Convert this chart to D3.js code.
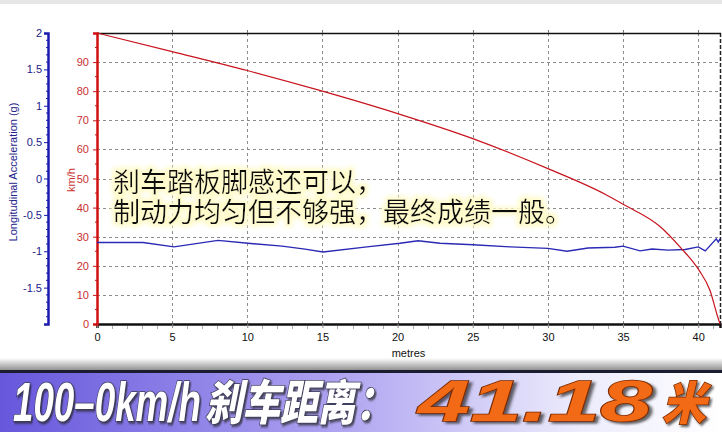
<!DOCTYPE html>
<html><head><meta charset="utf-8">
<script src="https://cdn.jsdelivr.net/npm/d3@7"></script>
<style>body{margin:0;background:#fff;}svg{display:block;}</style>
</head><body>
<svg id="c" width="722" height="432"></svg>
<script>
// ---- data ----
const distanceTicks = [0,5,10,15,20,25,30,35,40];
const speedTicks = [0,10,20,30,40,50,60,70,80,90];
const accelTicks = [-1.5,-1,-0.5,0,0.5,1,1.5,2];
const speedDist = [0,5,10,15,20,25,30,33.8,35.06,37.46,38.8,40.05,40.78,41.3,41.45];
const speedKmh  = [100,93.6,87.1,80,72.3,63.7,53.4,44.6,41,33.5,26.4,18.5,11.6,2.4,0];
const accDist = [0,3.06,5.12,8.05,10.05,12.31,13.84,15.04,17.96,20.16,21.36,22.82,25.02,27.48,30.01,31.27,32.67,34.46,35.0,36.13,36.93,38.0,39.13,40.0,40.47,41.2,41.34,41.45];
const accG    = [-0.88,-0.88,-0.94,-0.85,-0.89,-0.93,-0.97,-1.01,-0.94,-0.89,-0.855,-0.89,-0.91,-0.94,-0.96,-1.00,-0.955,-0.945,-0.93,-0.995,-0.97,-0.985,-0.975,-0.94,-0.995,-0.83,-0.875,-0.83];
const noteLines = ["刹车踏板脚感还可以，","制动力均匀但不够强，最终成绩一般。"];
const bannerParts = ["100–0km/h","刹车距离：","41.18","米"];

const svg = d3.select("#c");
const L = 97, R = 720, T = 33, B = 324;
const x = d3.scaleLinear().domain([0,41.45]).range([L,R]);
const yS = d3.scaleLinear().domain([0,100]).range([B,T]);
const yG = d3.scaleLinear().domain([-2,2]).range([B,T]);

const defs = svg.append("defs");
defs.append("clipPath").attr("id","clip").append("rect").attr("x",L).attr("y",T-1).attr("width",R-L+1).attr("height",B-T+2);
const f = defs.append("filter").attr("id","glow").attr("x","-5%").attr("y","-20%").attr("width","110%").attr("height","140%");
f.append("feMorphology").attr("in","SourceAlpha").attr("operator","dilate").attr("radius",3).attr("result","d");
f.append("feGaussianBlur").attr("in","d").attr("stdDeviation",2).attr("result","b");
f.append("feFlood").attr("flood-color","#fffbcc").attr("result","c");
f.append("feComposite").attr("in","c").attr("in2","b").attr("operator","in").attr("result","g");
const fm = f.append("feMerge");
fm.append("feMergeNode").attr("in","g");
fm.append("feMergeNode").attr("in","SourceGraphic");
const gb = defs.append("linearGradient").attr("id","bannerGrad").attr("x1",0).attr("x2",1).attr("y1",0).attr("y2",0);
gb.append("stop").attr("offset","0%").attr("stop-color","#6757dc");
gb.append("stop").attr("offset","45%").attr("stop-color","#aba0f0");
gb.append("stop").attr("offset","80%").attr("stop-color","#ecebfc");
gb.append("stop").attr("offset","100%").attr("stop-color","#ffffff");
const gg = defs.append("linearGradient").attr("id","grayGrad").attr("x1",0).attr("x2",0).attr("y1",0).attr("y2",1);
gg.append("stop").attr("offset","0%").attr("stop-color","#ffffff");
gg.append("stop").attr("offset","100%").attr("stop-color","#8a8a8a");
const ts = defs.append("filter").attr("id","tshadow").attr("x","-5%").attr("y","-20%").attr("width","110%").attr("height","150%");
ts.append("feDropShadow").attr("dx",2).attr("dy",2).attr("stdDeviation",1).attr("flood-color","#222").attr("flood-opacity",0.7);

svg.append("rect").attr("x",0).attr("y",0).attr("width",722).attr("height",4).attr("fill","#e6e6e6");

// grid
const grid = svg.append("g").attr("stroke","#8c8c8c").attr("stroke-dasharray","3,3").attr("stroke-width",1);
speedTicks.filter(d=>d>0).forEach(d=>{
  grid.append("line").attr("x1",L).attr("x2",R).attr("y1",Math.round(yS(d))+0.5).attr("y2",Math.round(yS(d))+0.5);
});
distanceTicks.filter(d=>d>0).forEach(d=>{
  grid.append("line").attr("y1",T).attr("y2",B).attr("x1",Math.round(x(d))+0.5).attr("x2",Math.round(x(d))+0.5);
});
svg.append("line").attr("x1",R+0.5).attr("x2",R+0.5).attr("y1",T).attr("y2",B).attr("stroke","#222").attr("stroke-dasharray","4,2").attr("stroke-width",1.5);
svg.append("line").attr("x1",L).attr("x2",R+1).attr("y1",T+0.5).attr("y2",T+0.5).attr("stroke","#111").attr("stroke-width",1.5);
distanceTicks.filter(d=>d>0).forEach(d=>{
  svg.append("line").attr("x1",Math.round(x(d))+0.5).attr("x2",Math.round(x(d))+0.5).attr("y1",T-3).attr("y2",T).attr("stroke","#777");
});

// x axis
const xAxis = d3.axisBottom(x).tickValues(distanceTicks).tickSize(4).tickPadding(5).tickFormat(d3.format("d"));
const gx = svg.append("g").attr("transform",`translate(0,${B})`).call(xAxis);
gx.select(".domain").attr("stroke","#111").attr("stroke-width",2.5);
gx.selectAll(".tick line").attr("stroke","#888");
gx.selectAll("text").attr("font-family","Liberation Sans, Arial, sans-serif").attr("font-size",11).attr("fill","#111");
const minorX = d3.range(1,42).filter(d=>d%5!==0);
gx.selectAll(".minor").data(minorX).enter().append("line").attr("class","minor")
  .attr("x1",d=>Math.round(x(d))+0.5).attr("x2",d=>Math.round(x(d))+0.5).attr("y1",2).attr("y2",5).attr("stroke","#aaa");
svg.append("text").attr("x",(L+R)/2).attr("y",357).attr("text-anchor","middle")
  .attr("font-family","Liberation Sans, Arial, sans-serif").attr("font-size",11).attr("fill","#111").text("metres");

// speed axis (red)
const sAxis = d3.axisLeft(yS).tickValues(speedTicks).tickSize(4).tickPadding(4);
const gs = svg.append("g").attr("transform",`translate(${L},0)`).call(sAxis);
gs.select(".domain").attr("stroke","#d01010").attr("stroke-width",2.5);
gs.selectAll(".tick line").attr("stroke","#d01010");
gs.selectAll("text").attr("font-family","Liberation Sans, Arial, sans-serif").attr("font-size",11).attr("fill","#c83030");
gs.selectAll(".minor").data(d3.range(5,100,10)).enter().append("line").attr("class","minor")
  .attr("x1",-2).attr("x2",0).attr("y1",d=>yS(d)).attr("y2",d=>yS(d)).attr("stroke","#d01010");
svg.append("text").attr("transform","translate(75,180) rotate(-90)").attr("text-anchor","middle")
  .attr("font-family","Liberation Sans, Arial, sans-serif").attr("font-size",11).attr("fill","#c83030").text("km/h");

// accel axis (blue)
const aAxis = d3.axisLeft(yG).tickValues(accelTicks).tickSize(4).tickPadding(2).tickFormat(d=>String(d));
const ga = svg.append("g").attr("transform",`translate(48,0)`).call(aAxis);
ga.select(".domain").attr("stroke","#1a1ab0").attr("stroke-width",2.5);
ga.selectAll(".tick line").attr("stroke","#1a1ab0");
ga.selectAll("text").attr("font-family","Liberation Sans, Arial, sans-serif").attr("font-size",11).attr("fill","#22228a");
ga.selectAll(".minor").data(d3.range(-19,20).map(d=>d/10).filter(d=>Math.abs(d*2-Math.round(d*2))>0.01)).enter().append("line").attr("class","minor")
  .attr("x1",-2).attr("x2",0).attr("y1",d=>yG(d)).attr("y2",d=>yG(d)).attr("stroke","#1a1ab0");
svg.append("text").attr("transform","translate(17,172) rotate(-90)").attr("text-anchor","middle")
  .attr("font-family","Liberation Sans, Arial, sans-serif").attr("font-size",11).attr("fill","#22228a").text("Longitudinal Acceleration (g)");

// lines
const plot = svg.append("g").attr("clip-path","url(#clip)");
plot.append("path").datum(accDist.map((d,i)=>[d,accG[i]]))
  .attr("d",d3.line().x(d=>x(d[0])).y(d=>yG(d[1])))
  .attr("fill","none").attr("stroke","#2a2ab4").attr("stroke-width",1.4);
plot.append("path").datum(speedDist.map((d,i)=>[d,speedKmh[i]]))
  .attr("d",d3.line().x(d=>x(d[0])).y(d=>yS(d[1])).curve(d3.curveMonotoneX))
  .attr("fill","none").attr("stroke","#c8141e").attr("stroke-width",1.2);

// annotation (single text block, two lines)
const note = svg.append("text").attr("font-family","Noto Sans CJK SC, sans-serif").attr("font-size",27)
  .attr("fill","#111").attr("filter","url(#glow)");
noteLines.forEach((t,i)=>{
  note.append("tspan").attr("x",113).attr("y",192+i*30).text(t);
});

// banner
svg.append("rect").attr("x",0).attr("y",358).attr("width",722).attr("height",13).attr("fill","url(#grayGrad)");
svg.append("rect").attr("x",0).attr("y",370).attr("width",722).attr("height",3).attr("fill","#1c1c30");
svg.append("rect").attr("x",0).attr("y",373).attr("width",722).attr("height",59).attr("fill","url(#bannerGrad)");
const bx = [[13,188],[205,188],[418,234],[662,44]];
const bsize = [55,48,57,46];
const bcol = ["#ffffff","#ffffff","#f26a12","#f26a12"];
const bfont = ["Liberation Sans, Arial, sans-serif","Noto Sans CJK SC, sans-serif","Liberation Sans, Arial, sans-serif","Noto Sans CJK SC, sans-serif"];
bannerParts.forEach((t,i)=>{
  const g = svg.append("g");
  const tx = g.append("text").attr("x",0).attr("y",0)
    .attr("font-family",bfont[i]).attr("font-size",bsize[i]).attr("font-weight",900).attr("font-style","italic")
    .attr("fill",bcol[i]).attr("stroke",i<2?"#3a3a55":"#7a2a00").attr("stroke-width",1.5).attr("paint-order","stroke")
    .attr("filter","url(#tshadow)").text(t);
  const w = tx.node().getComputedTextLength() || bx[i][1];
  const sx = bx[i][1]/w;
  g.attr("transform",`translate(${bx[i][0]},${i%2===0?421:420}) scale(${sx},1)`);
});
</script>
</body></html>
